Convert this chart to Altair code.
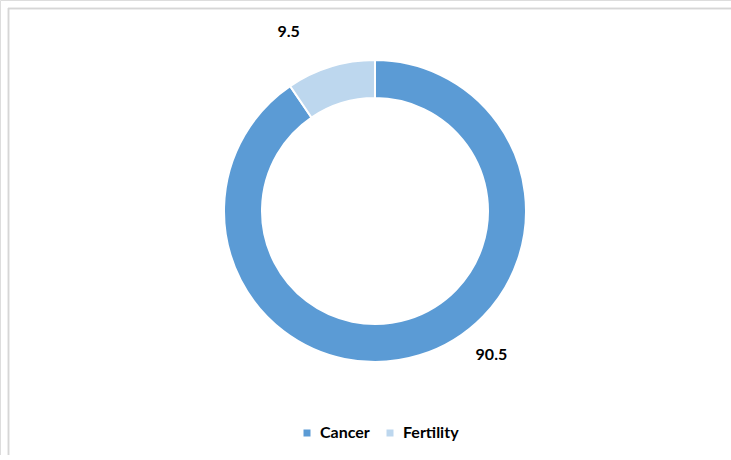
import math
import altair as alt
import pandas as pd

# Share of samples by category (%)
categories = ["Cancer", "Fertility"]
values = [90.5, 9.5]
colors = ["#5B9BD5", "#BDD7EE"]

df = pd.DataFrame({"category": categories, "value": values})

W, H = 731, 455
CX, CY = 375, 211
FONT = "Lato"

color_scale = alt.Scale(domain=categories, range=colors)

base = alt.Chart(df)

# Light grey frame edges (top and left; the rest runs off the canvas)
frame_top = base.mark_rule(stroke="#d6d6d6", strokeWidth=1.5).encode(
    x=alt.value(8), x2=alt.value(W), y=alt.value(8.5)
)
frame_left = base.mark_rule(stroke="#d6d6d6", strokeWidth=1.5).encode(
    x=alt.value(8.5), y=alt.value(8), y2=alt.value(H)
)

ring = base.mark_arc(outerRadius=151, innerRadius=113, stroke="white", strokeWidth=2).encode(
    theta=alt.Theta("value:Q", stack=True),
    color=alt.Color(
        "category:N",
        scale=color_scale,
        sort=categories,
        legend=alt.Legend(
            title=None,
            orient="none",
            direction="horizontal",
            legendX=299,
            legendY=425,
            symbolType="square",
            symbolSize=49,
            symbolStrokeWidth=0,
            labelFont=FONT,
            labelFontSize=16,
            labelFontWeight="bold",
            labelColor="#000000",
            labelOffset=5,
            columnPadding=12,
        ),
    ),
    order=alt.Order("value:Q", sort="descending"),
    x=alt.value(CX),
    y=alt.value(CY),
)

theta_scale = alt.Scale(domain=[0, 100], range=[0, 2 * math.pi])


def value_label(cat, dx, dy):
    return (
        base.transform_window(cum="sum(value)", sort=[alt.SortField("value", order="descending")])
        .transform_calculate(mid="datum.cum - datum.value / 2")
        .transform_filter(alt.datum.category == cat)
        .mark_text(radius=185, font=FONT, fontSize=16, fontWeight="bold", color="#000000", dx=dx, dy=dy)
        .encode(
            theta=alt.Theta("mid:Q", stack=None, scale=theta_scale),
            text=alt.Text("value:Q", format=".1f"),
            x=alt.value(CX),
            y=alt.value(CY),
        )
    )


labels = value_label("Cancer", 62, -33) + value_label("Fertility", -32, -2)

chart = (
    alt.layer(frame_top, frame_left, ring, labels)
    .resolve_scale(theta="independent")
    .properties(width=W, height=H, autosize=alt.AutoSizeParams(type="none"), padding=0)
    .configure_view(strokeWidth=0, strokeOpacity=0)
    .configure(background="white")
)

chart.save("out.html", embed_options={"renderer": "svg", "actions": False})
